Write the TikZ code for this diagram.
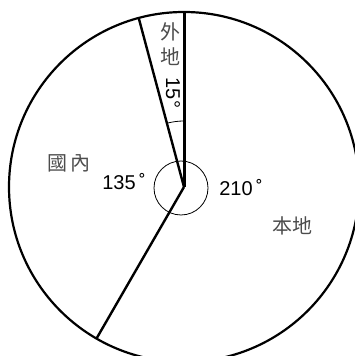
\documentclass[tikz,border=0pt]{standalone}
\usepackage{fontspec}
\setsansfont{Liberation Sans}
\newfontfamily\cjk{Noto Sans CJK TC}
\usetikzlibrary{positioning, calc}

\begin{document}
\begin{tikzpicture}[x=1pt, y=1pt, font=\sffamily\fontsize{20}{22}\selectfont]
				\tikzset{every node/.style={inner sep=0pt}}
				% Setup the styles for the parts
				\tikzset{rim/.style={line width=2.2pt},
						 spoke/.style={line width=2.4pt},
						 anglemark/.style={line width=0.8pt},
						 cjklabel/.style={font=\cjk\fontsize{20}{25}\selectfont, text=black!70},
						 degree/.style={font=\sffamily\fontsize{20}{22}\selectfont}}
				\useasboundingbox (0, 0) rectangle (355, 356);
				% Draw the circle and the spokes
				\coordinate (o) at (184, 169);
				\draw[rim] (o) circle (175);
				\draw[anglemark] (181, 168) circle (27);
				\draw[anglemark] ($(o)+(90:66)$) arc (90:105:66);
				\draw[spoke, line width=3pt] (o) -- ++(90:175) coordinate (a);
				\draw[spoke] (o) -- ++(105:175) coordinate (b);
				\draw[spoke] (o) -- ++(240:175) coordinate (c);
				% Draw the labels
				\node[cjklabel, align=center] at (170, 312) (ext) {外\\地};
				\node[degree, rotate=-90] at (173, 263) (extdeg) {15°};
				\node[cjklabel] at (69, 193) (dom) {國\,內};
				\node[degree] at (124, 174) (domdeg) {135\,˚};
				\node[degree] at (241, 168) (locdeg) {210\,˚};
				\node[cjklabel] at (292, 130) (loc) {本地};
			\end{tikzpicture}
\end{document}
